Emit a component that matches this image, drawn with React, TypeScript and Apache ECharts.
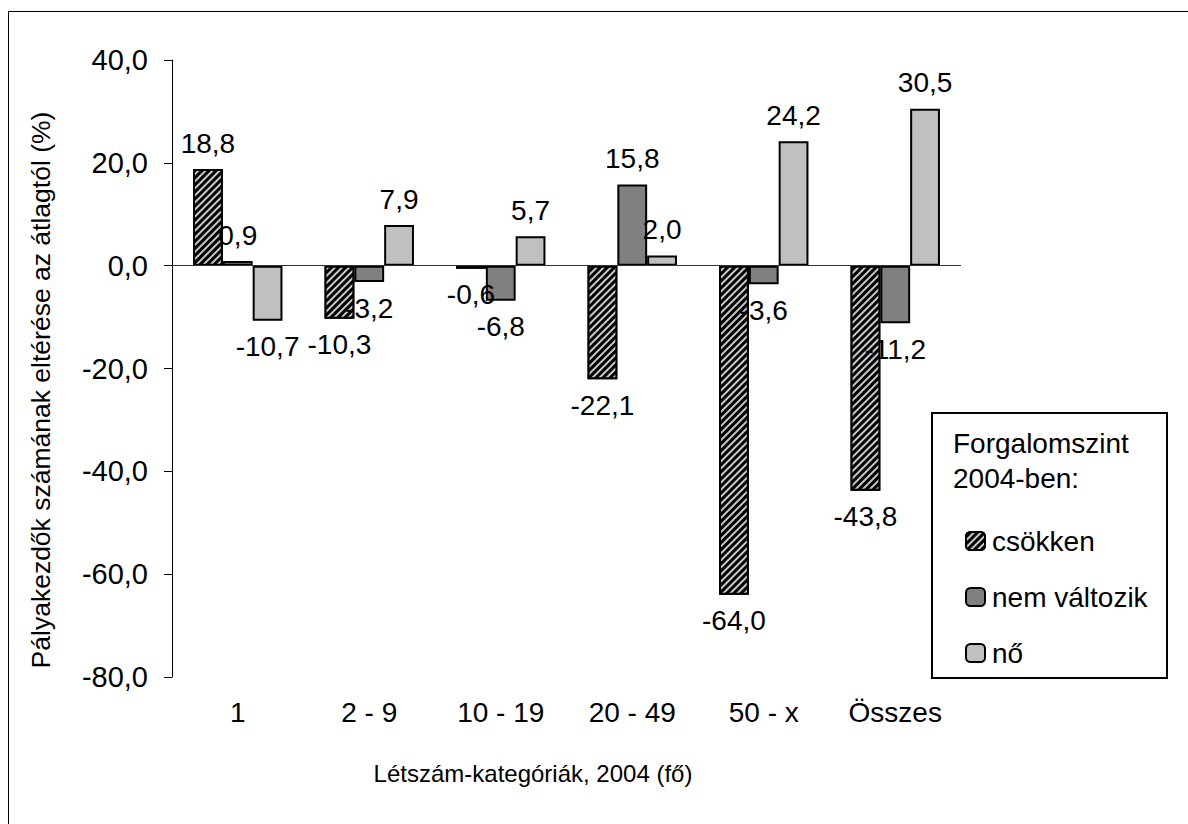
import React, { useEffect, useRef } from "react";
import * as echarts from "echarts";

const categories = ["1", "2 - 9", "10 - 19", "20 - 49", "50 - x", "Összes"];
const csokken = [18.8, -10.3, -0.6, -22.1, -64.0, -43.8];
const nemValtozik = [0.9, -3.2, -6.8, 15.8, -3.6, -11.2];
const no = [-10.7, 7.9, 5.7, 2.0, 24.2, 30.5];
const seriesNames = ["csökken", "nem változik", "nő"];
const yMin = -80;
const yMax = 40;
const yInterval = 20;

const FONT = "Liberation Sans, Arial, sans-serif";
const fmt = (v: number) => v.toFixed(1).replace(".", ",");

function makeData(values: number[]) {
  return values.map((v) => ({
    value: v,
    label: { position: v >= 0 ? "top" : "bottom" },
  }));
}

export default function App() {
  const ref = useRef<HTMLDivElement>(null);
  useEffect(() => {
    if (!ref.current) return;
    const chart = echarts.init(ref.current, undefined, { renderer: "svg" });
    const labelCfg = {
      show: true,
      distance: 12,
      fontSize: 28,
      color: "#000",
      fontFamily: FONT,
      formatter: (p: any) => fmt(p.value),
    };
    const common = {
      type: "bar",
      barGap: "0%",
      barCategoryGap: "32%",
      label: labelCfg,
    };
    chart.setOption({
      animation: false,
      backgroundColor: "#fff",
      textStyle: { fontFamily: FONT },
      grid: { left: 172, top: 60, width: 789, height: 617, containLabel: false },
      legend: {
        orient: "vertical",
        left: 960,
        top: 521,
        itemWidth: 19,
        itemHeight: 18,
        itemGap: 26,
        z: 10,
        textStyle: { fontSize: 28, color: "#000", fontFamily: FONT, lineHeight: 30, padding: [0, 0, 0, 2] },
        data: seriesNames,
      },
      xAxis: {
        type: "category",
        data: categories,
        axisLine: { show: false },
        axisTick: { show: false },
        splitLine: { show: false },
        axisLabel: { fontSize: 28, color: "#000", margin: 21, fontFamily: FONT, interval: 0 },
      },
      yAxis: {
        type: "value",
        min: yMin,
        max: yMax,
        interval: yInterval,
        splitLine: { show: false },
        axisLine: { show: true, lineStyle: { color: "#000", width: 1 } },
        axisTick: { show: true, length: 8, lineStyle: { color: "#000", width: 1 } },
        axisLabel: { fontSize: 29, color: "#000", margin: 24, fontFamily: FONT, formatter: (v: number) => fmt(v) },
      },
      series: [
        {
          ...common,
          name: seriesNames[0],
          data: makeData(csokken),
          itemStyle: {
            color: "#000",
            borderColor: "#000",
            borderWidth: 2,
            decal: {
              symbol: "rect",
              symbolSize: 1,
              dashArrayX: [1, 0],
              dashArrayY: [2, 3],
              rotation: -Math.PI / 4,
              color: "#c8c8c8",
            },
          },
          markLine: {
            silent: true,
            symbol: ["none", "none"],
            label: { show: false },
            lineStyle: { color: "#333", width: 1, type: "solid" },
            data: [{ yAxis: 0 }],
          },
        },
        {
          ...common,
          name: seriesNames[1],
          data: makeData(nemValtozik),
          itemStyle: { color: "#808080", borderColor: "#000", borderWidth: 2 },
        },
        {
          ...common,
          name: seriesNames[2],
          data: makeData(no),
          itemStyle: { color: "#c0c0c0", borderColor: "#000", borderWidth: 2 },
        },
      ],
      graphic: [
        {
          type: "rect",
          z: 0,
          silent: true,
          shape: { x: 8.5, y: 11.5, width: 1400, height: 1000 },
          style: { fill: "none", stroke: "#000", lineWidth: 1 },
        },
        {
          type: "rect",
          z: 1,
          silent: true,
          shape: { x: 932, y: 413, width: 235, height: 265 },
          style: { fill: "#fff", stroke: "#000", lineWidth: 2 },
        },
        {
          type: "text",
          z: 2,
          x: 953,
          y: 426,
          style: {
            text: "Forgalomszint\n2004-ben:",
            fontSize: 28,
            lineHeight: 35,
            fontFamily: FONT,
            fill: "#000",
            textAlign: "left",
            textVerticalAlign: "top",
          },
        },
        {
          type: "text",
          z: 2,
          x: 533,
          y: 773,
          style: {
            text: "Létszám-kategóriák, 2004 (fő)",
            fontSize: 24,
            fontFamily: FONT,
            fill: "#000",
            textAlign: "center",
            textVerticalAlign: "middle",
          },
        },
        {
          type: "text",
          z: 2,
          x: 41,
          y: 390,
          rotation: Math.PI / 2,
          style: {
            text: "Pályakezdők számának eltérése az átlagtól (%)",
            fontSize: 26.5,
            fontFamily: FONT,
            fill: "#000",
            textAlign: "center",
            textVerticalAlign: "middle",
          },
        },
      ],
    });
    return () => chart.dispose();
  }, []);
  return (
    <div
      ref={ref}
      style={{ position: "absolute", left: 0, top: 0, width: 1188, height: 824 }}
    />
  );
}
